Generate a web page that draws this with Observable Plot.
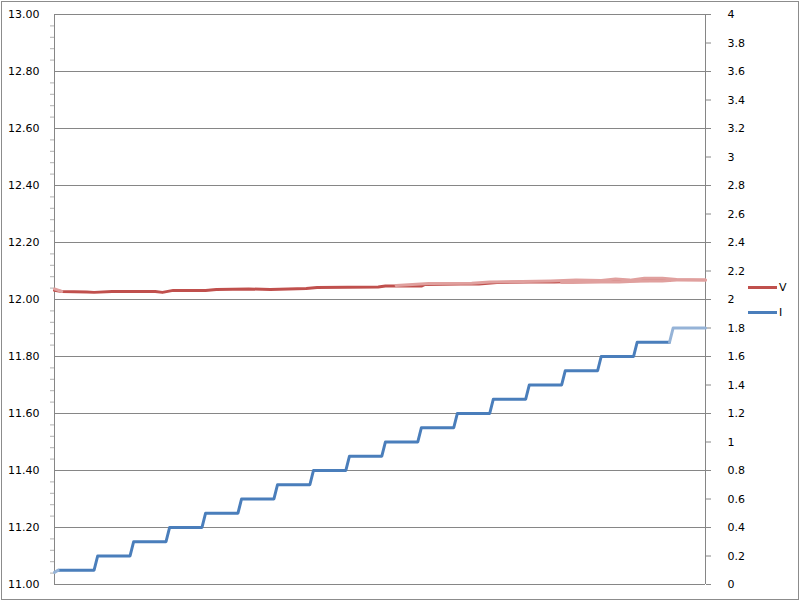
<!DOCTYPE html>
<html>
<head>
<meta charset="utf-8">
<script src="https://cdn.jsdelivr.net/npm/d3@7"></script>
<script src="https://cdn.jsdelivr.net/npm/@observablehq/plot@0.6"></script>
<style>
  html, body { margin: 0; padding: 0; background: #fff; }
  #wrap { position: relative; width: 800px; height: 601px; overflow: hidden; font-family: "DejaVu Sans", sans-serif; }
  #border { position: absolute; left: 1px; top: 1px; width: 796px; height: 597px; border: 1px solid #8c8c8c; pointer-events: none; }
  #legend { position: absolute; left: 748px; top: 275px; font-size: 11px; color: #000; }
  .item { display: flex; align-items: center; height: 25px; }
  .sw { width: 29px; height: 3px; margin-right: 2px; }
</style>
</head>
<body>
<div id="wrap">
  <div id="chart"></div>
  <div id="legend"></div>
  <div id="border"></div>
</div>
<script>
// ---- data (sample index on x) ----
const xDomain = [0, 181];
const leftTicks = [11.0, 11.2, 11.4, 11.6, 11.8, 12.0, 12.2, 12.4, 12.6, 12.8, 13.0];
const leftMinorTicks = [11.04,11.08,11.12,11.16,11.24,11.28,11.32,11.36,11.44,11.48,11.52,11.56,11.64,11.68,11.72,11.76,11.84,11.88,11.92,11.96,12.04,12.08,12.12,12.16,12.24,12.28,12.32,12.36,12.44,12.48,12.52,12.56,12.64,12.68,12.72,12.76,12.84,12.88,12.92,12.96];
const rightTicks = [0,0.2,0.4,0.6,0.8,1,1.2,1.4,1.6,1.8,2,2.2,2.4,2.6,2.8,3,3.2,3.4,3.6,3.8,4];
const rightDomain = [0, 4];

// Voltage V (left axis) – dark trace
const vIdx = [0,2,9,11,16,28,30,33,42,45,54,60,70,73,90,92,102,103,113,118,123,132,139,144,155,166,171];
const vVal = [12.032,12.028,12.026,12.025,12.028,12.028,12.025,12.032,12.032,12.035,12.037,12.035,12.039,12.042,12.044,12.047,12.047,12.053,12.054,12.054,12.060,12.061,12.061,12.063,12.065,12.067,12.067];
// Voltage V – light traces
const vLightStartIdx = [0,2];
const vLightStartVal = [12.037,12.028];
const vLightAIdx = [95,104,116,121,130,138,145,152,156,160,164,169,173,181];
const vLightAVal = [12.049,12.056,12.057,12.061,12.063,12.065,12.068,12.067,12.072,12.068,12.075,12.075,12.070,12.068];
const vLightBIdx = [141,144,152,157,163,169,173,181];
const vLightBVal = [12.060,12.060,12.061,12.061,12.065,12.065,12.068,12.068];

// Current I (right axis) – dark stepped trace
const iIdx = [1,11,12,21,22,31,32,41,42,51,52,61,62,71,72,81,82,91,92,101,102,111,112,121,122,131,132,141,142,151,152,161,162,171];
const iVal = [0.1,0.1,0.2,0.2,0.3,0.3,0.4,0.4,0.5,0.5,0.6,0.6,0.7,0.7,0.8,0.8,0.9,0.9,1.0,1.0,1.1,1.1,1.2,1.2,1.3,1.3,1.4,1.4,1.5,1.5,1.6,1.6,1.7,1.7];
// Current I – light traces
const iLightStartIdx = [0,1];
const iLightStartVal = [0.085,0.1];
const iLightEndIdx = [171,172,181];
const iLightEndVal = [1.7,1.8,1.8];

const seriesNames = ["V", "I"];
const colors = { V: "#C0504D", I: "#4A7EBB", Vlight: "#E0A09E", Ilight: "#95B3D7" };

// map right-axis values onto the left scale
const leftDomain = [11, 13];
const toLeft = v => leftDomain[0] + (v - rightDomain[0]) * (leftDomain[1] - leftDomain[0]) / (rightDomain[1] - rightDomain[0]);
const toRight = y => rightDomain[0] + (y - leftDomain[0]) * (rightDomain[1] - rightDomain[0]) / (leftDomain[1] - leftDomain[0]);

const pts = (idx, val, s, f = d => d) => idx.map((x, k) => ({x, y: f(val[k]), s}));
const vDark = pts(vIdx, vVal, "v");
const vLight = [
  ...pts(vLightStartIdx, vLightStartVal, "a"),
  ...pts(vLightAIdx, vLightAVal, "b"),
  ...pts(vLightBIdx, vLightBVal, "c")
];
const iDark = pts(iIdx, iVal, "i", toLeft);
const iLight = [
  ...pts(iLightStartIdx, iLightStartVal, "a", toLeft),
  ...pts(iLightEndIdx, iLightEndVal, "b", toLeft)
];
const fmtR = d => String(+d.toFixed(1));
const rightPos = rightTicks.map(toLeft);

const chart = Plot.plot({
  width: 800,
  height: 601,
  marginLeft: 54,
  marginRight: 95,
  marginTop: 14,
  marginBottom: 17,
  x: { domain: xDomain, axis: null },
  y: { domain: leftDomain, axis: null },
  style: { fontFamily: "DejaVu Sans, sans-serif", fontSize: "11px", color: "#000", background: "transparent", overflow: "visible" },
  marks: [
    Plot.gridY(leftTicks, { stroke: "#868686", strokeOpacity: 1, strokeWidth: 1 }),
    Plot.axisY(leftMinorTicks, { anchor: "left", tickSize: 4, stroke: "#b0b0b0", text: null, label: null }),
    Plot.axisY(leftTicks, { anchor: "left", tickSize: 0, tickPadding: 15, tickFormat: d3.format(".2f"), fill: "#000", label: null }),
    Plot.axisY(rightPos, { anchor: "right", tickSize: 5, stroke: "#868686", text: null, label: null }),
    Plot.axisY(rightPos, { anchor: "right", tickSize: 0, tickPadding: 13, dx: 9, tickFormat: d => fmtR(toRight(d)), fill: "#000", label: null }),
    Plot.ruleX([xDomain[0], xDomain[1]], { stroke: "#868686", strokeWidth: 1 }),
    Plot.line(vDark, { x: "x", y: "y", z: "s", stroke: colors.V, strokeWidth: 3, strokeLinejoin: "round", strokeLinecap: "round" }),
    Plot.line(vLight, { x: "x", y: "y", z: "s", stroke: colors.Vlight, strokeWidth: 3, strokeLinejoin: "round", strokeLinecap: "round" }),
    Plot.line(iDark, { x: "x", y: "y", z: "s", stroke: colors.I, strokeWidth: 3, strokeLinejoin: "round", strokeLinecap: "round" }),
    Plot.line(iLight, { x: "x", y: "y", z: "s", stroke: colors.Ilight, strokeWidth: 3, strokeLinejoin: "round", strokeLinecap: "round" })
  ]
});
document.getElementById("chart").appendChild(chart);

const legend = document.getElementById("legend");
seriesNames.forEach(n => {
  const it = document.createElement("div");
  it.className = "item";
  it.innerHTML = `<span class="sw" style="background:${colors[n]}"></span><span>${n}</span>`;
  legend.appendChild(it);
});
</script>
</body>
</html>
